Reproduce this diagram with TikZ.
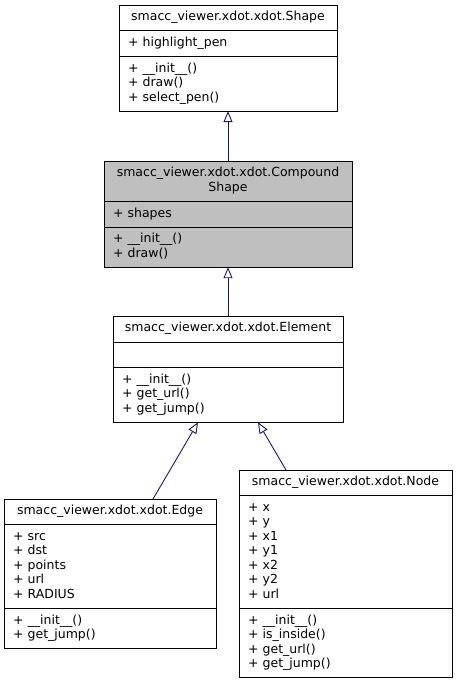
\documentclass[tikz,border=0pt]{standalone}
\usepackage{fontspec}
\setmainfont{DejaVu Sans}
\usetikzlibrary{positioning,arrows.meta}
\definecolor{edgeBlue}{HTML}{191970}
\definecolor{greyFill}{HTML}{BFBFBF}

\begin{document}
\begin{tikzpicture}[x=1pt,y=1pt,node distance=0pt,
    part/.style={draw=black,line width=0.8pt,fill=white,inner xsep=9pt,inner ysep=5.6pt,
      outer sep=0pt,font=\fontsize{12.5}{14.5}\selectfont,align=left,
      execute at begin node=\strut,execute at end node=\strut},
    head/.style={part,align=center},
    inh/.style={draw=edgeBlue,line width=0.9pt,
      arrows={Triangle[open,length=11pt,width=9pt]-}}]
    \useasboundingbox (0,0) rectangle (457,-684);
    % base class
    \node[head,anchor=north,text width=200pt] (shapeT) at (228,-5) {smacc\_viewer.xdot.xdot.Shape};
    \node[part,text width=200pt,below=of shapeT] (shapeA) {+ highlight\_pen};
    \node[part,text width=200pt,below=of shapeA] (shapeM) {+ \_\_init\_\_()\\+ draw()\\+ select\_pen()};
    % the class itself
    \node[head,fill=greyFill,text width=230pt,below=50pt of shapeM] (compT) {smacc\_viewer.xdot.xdot.Compound\\Shape};
    \node[part,fill=greyFill,text width=230pt,below=of compT] (compA) {+ shapes};
    \node[part,fill=greyFill,text width=230pt,below=of compA] (compM) {+ \_\_init\_\_()\\+ draw()};
    % derived classes
    \node[head,text width=212pt,below=49pt of compM] (elemT) {smacc\_viewer.xdot.xdot.Element};
    \node[part,text width=212pt,below=of elemT] (elemA) {};
    \node[part,text width=212pt,below=of elemA] (elemM) {+ \_\_init\_\_()\\+ get\_url()\\+ get\_jump()};
    \node[head,anchor=north,text width=194pt] (edgeT) at (110,-499) {smacc\_viewer.xdot.xdot.Edge};
    \node[part,text width=194pt,below=of edgeT] (edgeA) {+ src\\+ dst\\+ points\\+ url\\+ RADIUS};
    \node[part,text width=194pt,below=of edgeA] (edgeM) {+ \_\_init\_\_()\\+ get\_jump()};
    \node[head,anchor=north,text width=195pt] (nodeT) at (345.5,-470) {smacc\_viewer.xdot.xdot.Node};
    \node[part,text width=195pt,below=of nodeT] (nodeA) {+ x\\+ y\\+ x1\\+ y1\\+ x2\\+ y2\\+ url};
    \node[part,text width=195pt,below=of nodeA] (nodeM) {+ \_\_init\_\_()\\+ is\_inside()\\+ get\_url()\\+ get\_jump()};
    % inheritance
    \draw[inh] (shapeM) -- (compT);
    \draw[inh] (compM) -- (elemT);
    \draw[inh] ([xshift=-30pt]elemM.south) -- ([xshift=43pt]edgeT.north);
    \draw[inh] ([xshift=30pt]elemM.south) -- ([xshift=-59.5pt]nodeT.north);
\end{tikzpicture}
\end{document}
